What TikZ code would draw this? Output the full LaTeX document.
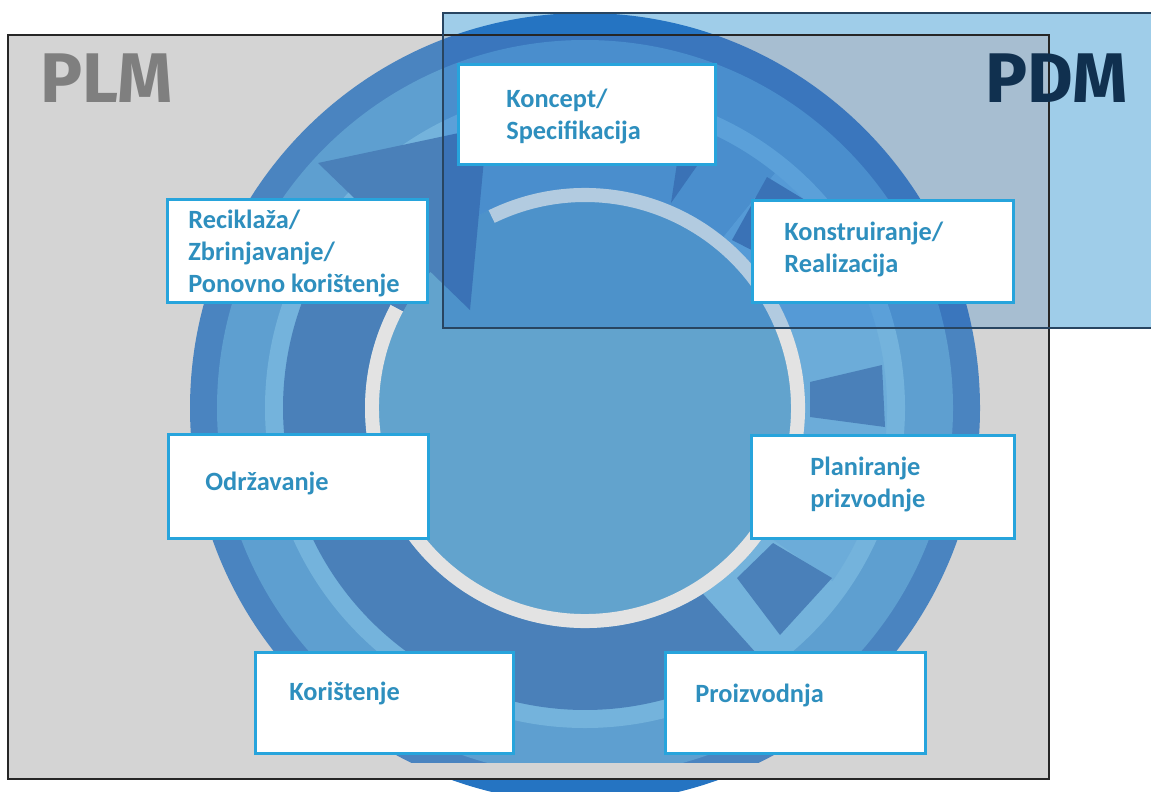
\documentclass[tikz,border=0pt]{standalone}
\usepackage{fontspec}
\setmainfont{Carlito}
\newfontfamily\headfont{Fira Sans}
\usetikzlibrary{positioning}

\definecolor{plmgray}{HTML}{D4D4D4}
\definecolor{pdmblue}{HTML}{9FCDE9}
\definecolor{diskblue}{HTML}{2574C2}
\definecolor{outerdark}{HTML}{4A84C0}
\definecolor{midblue}{HTML}{5E9FD0}
\definecolor{stripeblue}{HTML}{74B3DC}
\definecolor{rightband}{HTML}{6CACD9}
\definecolor{darkband}{HTML}{4A80B9}
\definecolor{ringgray}{HTML}{E3E3E3}
\definecolor{innerblue}{HTML}{62A3CD}
\definecolor{tintblue}{HTML}{C9E5FC}
\definecolor{boxblue}{HTML}{27A4DC}
\definecolor{txtblue}{RGB}{46,143,190}
\definecolor{plmtext}{HTML}{7F7F7F}
\definecolor{pdmtext}{HTML}{10304F}

\newcommand\ringpart[5]{\fill[#1] (#2:#4) arc[start angle=#2, end angle=#3, radius=#4] -- (#3:#5) arc[start angle=#3, end angle=#2, radius=#5] -- cycle;}

\begin{document}
\begin{tikzpicture}[x=0.02cm, y=-0.02cm,
    stepbox/.style={draw=boxblue, line width=0.06cm, fill=white, inner sep=0pt},
    steptext/.style={text=txtblue, font=\bfseries\fontsize{15}{18.2}\selectfont, align=left, anchor=west, inner sep=0pt},
    headtext/.style={font=\headfont\bfseries\fontsize{40}{40}\selectfont, anchor=base west, inner sep=0pt}]
    \def\px{0.02cm}
    \def\R{395}
    \useasboundingbox (0,0) rectangle (1151,791);
    \clip (0,0) rectangle (1151,791);
    \fill[pdmblue] (443,13) rectangle (1160,328); % PDM 区域
    \fill[diskblue] (585,408) circle[radius=\R];
    \fill[plmgray] (8,35) rectangle (1049,779); % PLM 区域
    \begin{scope}
      \clip (8,35) rectangle (1049,762);
      \begin{scope}[shift={(585,408)}, y=0.02cm]
        \fill[outerdark] (0,0) circle[radius=\R];
        \fill[midblue] (0,0) circle[radius=368];
        \fill[stripeblue] (0,0) circle[radius=320];
        \fill[innerblue] (0,0) circle[radius=220];
        \fill[darkband] (137.5:220) -- (137.5:302) arc[start angle=137.5, end angle=305, radius=302] -- (302.4:220) arc[start angle=302.4, end angle=137.5, radius=220] -- cycle;
        \ringpart{midblue}{51}{137.5}{220}{302}
        \ringpart{rightband}{-35}{51}{220}{302}
        \ringpart{ringgray}{152}{476}{206}{220} % 浅色圆环
        \ringpart{darkband}{137.5}{152}{206}{220}
      \end{scope}
      \fill[darkband] (671,203) -- (677,163) -- (699,163) -- cycle;
      \fill[darkband] (732,240) -- (767,177) -- (805,200) -- (775,262) -- cycle;
      \fill[darkband] (810,382) -- (882,365) -- (885,427) -- (810,417) -- cycle;
      \fill[darkband] (737,578) -- (780,635) -- (832,578) -- (773,543) -- cycle;
      \fill[darkband] (318,163) -- (470,310) -- (487,127) -- cycle; % 箭头
    \end{scope}
    \begin{scope}[blend mode=multiply]
      \fill[tintblue] (443,35) rectangle (1049,328);
    \end{scope}
    \draw[line width=0.04cm, draw=black!85] (8,35) rectangle (1049,779);
    \draw[line width=0.03cm, draw=pdmtext!90] (1160,13) -- (443,13) -- (443,328) -- (1160,328);

    \node[stepbox, minimum width=257*\px, minimum height=100*\px] (koncept) at (586.5,114) {};
    \node[steptext] (koncepttext) at (506,116) {Koncept/\\Specifikacija};
    \node[stepbox, minimum width=260*\px, minimum height=103*\px] (reciklaza) at (297,250.5) {};
    \node[steptext] (reciklazatext) at (188,253) {Reciklaža/\\Zbrinjavanje/\\Ponovno korištenje};
    \node[stepbox, minimum width=261*\px, minimum height=102*\px] (konstrukcija) at (882.5,251) {};
    \node[steptext] (konstrukcijatext) at (784,249) {Konstruiranje/\\Realizacija};
    \node[stepbox, minimum width=260*\px, minimum height=104*\px] (odrzavanje) at (298,486) {};
    \node[steptext] (odrzavanjetext) at (205,483) {Održavanje};
    \node[stepbox, minimum width=263*\px, minimum height=103*\px] (planiranje) at (882.5,486.5) {};
    \node[steptext] (planiranjetext) at (810,484) {Planiranje\\prizvodnje};
    \node[stepbox, minimum width=258*\px, minimum height=101*\px] (koristenje) at (384,702.5) {};
    \node[steptext] (koristenjetext) at (289,693) {Korištenje};
    \node[stepbox, minimum width=260*\px, minimum height=101*\px] (proizvodnja) at (795,702.5) {};
    \node[steptext] (proizvodnjatext) at (695,695) {Proizvodnja};

    \node[headtext, text=plmtext] (plm) at (40,102) {PLM};
    \node[headtext, text=pdmtext] (pdm) at (985,102) {PDM};
\end{tikzpicture}
\end{document}
